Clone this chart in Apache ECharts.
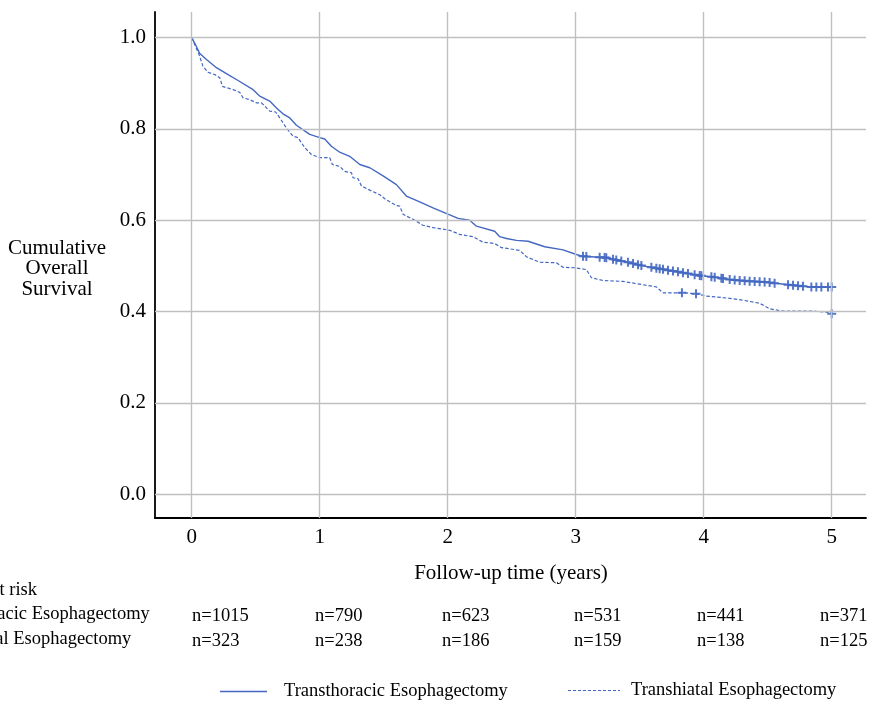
<!DOCTYPE html>
<html>
<head>
<meta charset="utf-8">
<script src="https://cdn.jsdelivr.net/npm/echarts@6/dist/echarts.min.js"></script>
<style>html,body{margin:0;padding:0;background:#fff}#c{width:878px;height:702px}</style>
</head>
<body>
<div id="c"></div>
<script>
// ---- data ----
const seriesNames = ['Transthoracic Esophagectomy', 'Transhiatal Esophagectomy'];
const xTicks = [0, 1, 2, 3, 4, 5];
const yTicks = [0.0, 0.2, 0.4, 0.6, 0.8, 1.0];

// Kaplan-Meier curve: [years, survival]
const tteCurve = [[0,1.0],[0.023,0.988],[0.063,0.965],[0.115,0.952],[0.193,0.934],[0.271,0.921],[0.362,0.906],[0.479,0.886],[0.531,0.872],[0.609,0.861],[0.662,0.846],[0.713,0.833],[0.766,0.824],[0.818,0.808],[0.922,0.788],[1.0,0.781],[1.039,0.778],[1.091,0.762],[1.156,0.749],[1.234,0.740],[1.313,0.722],[1.391,0.715],[1.495,0.697],[1.599,0.678],[1.677,0.653],[1.781,0.640],[1.885,0.627],[1.964,0.618],[2.081,0.604],[2.172,0.600],[2.224,0.587],[2.367,0.576],[2.406,0.564],[2.459,0.560],[2.537,0.556],[2.628,0.554],[2.758,0.542],[2.901,0.535],[3.005,0.525],[3.057,0.521],[3.240,0.518],[3.318,0.513],[3.422,0.507],[3.526,0.500],[3.630,0.495],[3.734,0.490],[3.865,0.484],[3.969,0.479],[4.099,0.475],[4.203,0.470],[4.334,0.467],[4.463,0.465],[4.594,0.461],[4.724,0.457],[4.828,0.454],[5.0,0.454]];
const theCurve = [[0,1.0],[0.023,0.985],[0.057,0.963],[0.088,0.937],[0.127,0.924],[0.180,0.919],[0.219,0.912],[0.240,0.893],[0.323,0.886],[0.375,0.880],[0.401,0.868],[0.453,0.864],[0.505,0.857],[0.545,0.857],[0.609,0.839],[0.656,0.837],[0.688,0.824],[0.740,0.802],[0.791,0.784],[0.830,0.781],[0.883,0.759],[0.935,0.744],[1.0,0.737],[1.078,0.737],[1.099,0.722],[1.156,0.718],[1.195,0.707],[1.248,0.704],[1.260,0.693],[1.299,0.691],[1.326,0.675],[1.391,0.666],[1.469,0.656],[1.508,0.647],[1.599,0.632],[1.625,0.631],[1.651,0.613],[1.729,0.602],[1.807,0.589],[1.885,0.584],[2.016,0.578],[2.094,0.569],[2.198,0.564],[2.276,0.552],[2.367,0.549],[2.420,0.540],[2.563,0.534],[2.615,0.520],[2.719,0.508],[2.849,0.507],[2.901,0.497],[2.992,0.496],[3.083,0.492],[3.123,0.474],[3.214,0.468],[3.370,0.466],[3.500,0.460],[3.630,0.454],[3.682,0.441],[3.838,0.441],[3.943,0.439],[4.021,0.434],[4.203,0.429],[4.307,0.425],[4.438,0.418],[4.516,0.406],[4.620,0.401],[4.854,0.401],[4.99,0.398],[5.0,0.395]];

// censoring times (years)
const tteCensor = [3.057,3.083,3.187,3.226,3.239,3.291,3.317,3.356,3.408,3.448,3.487,3.513,3.591,3.630,3.656,3.682,3.721,3.760,3.799,3.838,3.877,3.929,3.969,3.982,4.060,4.086,4.138,4.151,4.203,4.242,4.281,4.320,4.359,4.398,4.437,4.476,4.515,4.554,4.659,4.698,4.737,4.776,4.841,4.880,4.919,4.971,5.0];
const theCensor = [3.83, 3.94, 5.0];

// numbers at risk at years 0..5
const riskTitle = 'Number at risk';
const tteRisk = [1015, 790, 623, 531, 441, 371];
const theRisk = [323, 238, 186, 159, 138, 125];

// ---- helpers ----
function valueAt(curve, t) {
  for (let i = 1; i < curve.length; i++) {
    if (t <= curve[i][0]) {
      const a = curve[i - 1], b = curve[i];
      const f = (t - a[0]) / ((b[0] - a[0]) || 1);
      return a[1] + f * (b[1] - a[1]);
    }
  }
  return curve[curve.length - 1][1];
}
const tteMarks = tteCensor.map(t => [t, valueAt(tteCurve, t)]);
const theMarks = theCensor.map(t => [t, valueAt(theCurve, t)]);

const BLUE = '#4468c2';
const FONT = '"Liberation Serif", "Times New Roman", serif';
const plus = 'path://M3.5,0H5.5V3.5H9V5.5H5.5V9H3.5V5.5H0V3.5H3.5Z';
const DASH = [3.5, 2];

const chart = echarts.init(document.getElementById('c'), null, {renderer: 'canvas'});

const riskXs = [192, 315, 442, 574, 697, 820];
const graphics = [
  {type:'text', left:-74, top:592-11, style:{text:riskTitle, font:'18.5px ' + FONT, fill:'#000'}},
  {type:'text', left:-74, top:616-11, style:{text:seriesNames[0], font:'18.5px ' + FONT, fill:'#000'}},
  {type:'text', left:-74, top:641-11, style:{text:seriesNames[1], font:'18.5px ' + FONT, fill:'#000'}},
  {type:'text', x:57, y:238, style:{text:'Cumulative\nOverall\nSurvival', font:'21px ' + FONT, fill:'#000', align:'center', verticalAlign:'top', lineHeight:20.5}},
  {type:'text', x:511, y:573, style:{text:'Follow-up time (years)', font:'21px ' + FONT, fill:'#000', align:'center', verticalAlign:'middle'}},
  // legend
  {type:'line', shape:{x1:220, y1:691.5, x2:267, y2:691.5}, style:{stroke:BLUE, lineWidth:1.3}},
  {type:'text', x:284, y:691, style:{text:seriesNames[0], font:'18.5px ' + FONT, fill:'#000', verticalAlign:'middle'}},
  {type:'line', shape:{x1:568, y1:690.5, x2:620, y2:690.5}, style:{stroke:BLUE, lineWidth:1.2, lineDash:[3,2]}},
  {type:'text', x:631, y:690, style:{text:seriesNames[1], font:'18.5px ' + FONT, fill:'#000', verticalAlign:'middle'}}
];
tteRisk.forEach((n, i) => graphics.push({type:'text', x:riskXs[i], y:616, style:{text:'n=' + n, font:'18.5px ' + FONT, fill:'#000', verticalAlign:'middle'}}));
theRisk.forEach((n, i) => graphics.push({type:'text', x:riskXs[i], y:641, style:{text:'n=' + n, font:'18.5px ' + FONT, fill:'#000', verticalAlign:'middle'}}));

const gridLineStyle = {color:'#c0c0c0', width:1.4, type:'solid'};

const option = {
  animation: false,
  backgroundColor: '#fff',
  grid: {left:155, right:12, top:12, bottom:184},
  xAxis: {
    type:'value', min:-0.287, max:5.268,
    axisLine:{show:true, onZero:false, lineStyle:{color:'#000', width:1.8}},
    axisTick:{show:false}, splitLine:{show:false},
    axisLabel:{customValues:xTicks, formatter:v => String(v), fontFamily:FONT, fontSize:21, color:'#000', margin:9}
  },
  yAxis: {
    type:'value', min:-0.052, max:1.056,
    axisLine:{show:true, onZero:false, lineStyle:{color:'#000', width:1.8}},
    axisTick:{show:false}, splitLine:{show:false},
    axisLabel:{customValues:yTicks, formatter:v => v.toFixed(1), fontFamily:FONT, fontSize:21, color:'#000', margin:9}
  },
  graphic: graphics,
  series: [
    {
      type:'line', name:'grid', data:[], z:1, silent:true,
      markLine:{
        silent:true, symbol:['none','none'], label:{show:false}, animation:false,
        lineStyle:gridLineStyle,
        data: xTicks.map(v => ({xAxis:v})).concat(yTicks.map(v => ({yAxis:v})))
      }
    },
    {
      type:'line', name:seriesNames[0], data:tteCurve, z:3, symbol:'none', showSymbol:false,
      lineStyle:{color:BLUE, width:1.4, type:'solid'}, itemStyle:{color:BLUE}
    },
    {
      type:'line', name:seriesNames[1], data:theCurve, z:3, symbol:'none', showSymbol:false,
      lineStyle:{color:BLUE, width:1.2, type:DASH}, itemStyle:{color:BLUE}
    },
    {
      type:'scatter', name:'tteCensor', data:tteMarks, z:4, symbol:plus, symbolSize:9,
      itemStyle:{color:BLUE, opacity:0.9}, silent:true
    },
    {
      type:'scatter', name:'theCensor', data:theMarks, z:4, symbol:plus, symbolSize:9,
      itemStyle:{color:BLUE, opacity:0.9}, silent:true
    }
  ]
};
chart.setOption(option);
</script>
</body>
</html>
